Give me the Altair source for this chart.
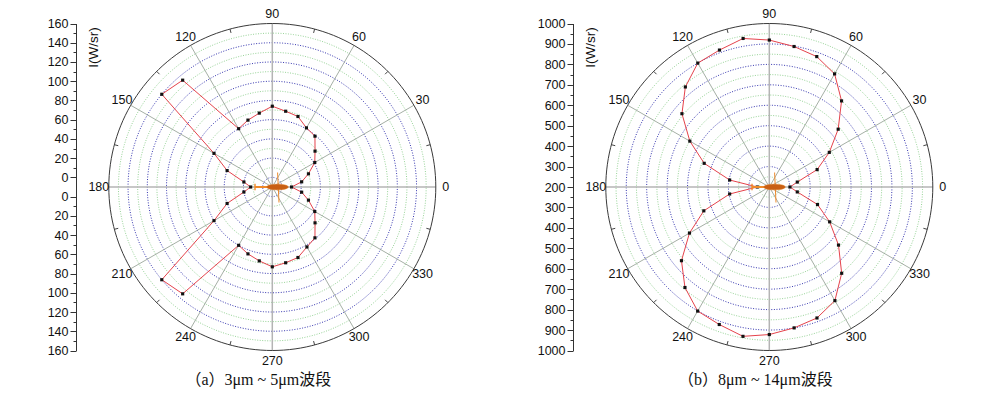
import altair as alt
import pandas as pd
import numpy as np

# ---------------- data ----------------
ANGLES = list(range(0, 360, 10))
A_VALUES = [10, 21, 30, 41, 48, 59, 61, 68, 70, 74, 68, 64, 60, 135, 140, 60, 40, 20, 12.5,
            20, 40, 60, 140, 135, 60, 64, 68, 73, 70, 68, 62, 59, 48, 41, 30, 21]
B_VALUES = [301, 339, 449, 539, 640, 750, 839, 879, 898, 919, 938, 913, 900, 839, 758, 649, 539, 397, 259,
            397, 541, 651, 761, 842, 901, 916, 942, 922, 900, 882, 842, 751, 642, 541, 451, 339]
ANGLE_LABELS = list(range(0, 360, 30))
MINOR_ANGLES = list(range(15, 360, 30))
A_RADIAL = {"vmin": -10, "vmax": 160, "first": 0, "major": 20}
B_RADIAL = {"vmin": 200, "vmax": 1000, "first": 200, "major": 100}
CAPTIONS = ["（a）3μm ~ 5μm波段", "（b）8μm ~ 14μm波段"]
AXIS_TITLE = "I(W/sr)"

# ---------------- layout / style ----------------
W, H = 976, 381
R_PX = 163.5
CY = 179
CENTERS_X = [264.3, 761.3]
AXIS_X = [68, 565]
LABEL_R_PX = 173.5
FONT = "Liberation Sans, Arial, sans-serif"
CAP_FONT = "Liberation Serif, 'Noto Sans CJK SC', serif"

BODY_PATH = "M -0.28 0 C -0.28 -0.19 0.8 -0.19 0.8 0 C 0.8 0.19 -0.28 0.19 -0.28 0 Z"
FIN_PATH = ("M -0.85 -0.045 L 0.3 -0.045 L 0.3 0.045 L -0.85 0.045 Z "
            "M -0.9 -0.16 L -0.83 -0.16 L -0.83 0.16 L -0.9 0.16 Z "
            "M 0.24 -0.72 L 0.29 -0.72 L 0.36 0.78 L 0.31 0.78 Z")


def panel(values, rad, cx, axis_x, caption):
    vmin, vmax, first, major = rad["vmin"], rad["vmax"], rad["first"], rad["major"]
    half = major // 2
    Rd = vmax - vmin
    k = Rd / R_PX

    xs = alt.Scale(domain=[-Rd, Rd], range=[cx - R_PX, cx + R_PX], nice=False, zero=False)
    ys = alt.Scale(domain=[-Rd, Rd], range=[CY + R_PX, CY - R_PX], nice=False, zero=False)

    label_vals = list(range(first, vmax + 1, half))
    tick_vals = sorted(set([v - vmin for v in label_vals] + [-(v - vmin) for v in label_vals]))
    test = f"(abs(datum.value) + ({vmin})) % {major} == 0"
    axis = alt.Axis(
        values=tick_vals,
        labelExpr=f"{test} ? toString(abs(datum.value) + ({vmin})) : ''",
        tickSize={"condition": {"test": test, "value": 6}, "value": 3},
        orient="left", offset=-axis_x, grid=False,
        domainColor="#333333", domainWidth=1, tickColor="#333333", tickWidth=1,
        labelFont=FONT, labelFontSize=12.5, labelColor="#111111", labelPadding=2,
        labelOverlap=False, labelFlush=False,
        title=AXIS_TITLE, titleX=17, titleY=39, titleAngle=270, titleAlign="center",
        titleBaseline="middle", titleFont=FONT, titleFontSize=13.5, titleFontWeight="normal",
        titleColor="#111111", titlePadding=0,
    )

    def X(f):
        return alt.X(f, type="quantitative", scale=xs, axis=None)

    def Y(f):
        return alt.Y(f, type="quantitative", scale=ys, axis=axis)

    # grid rings
    t = np.arange(0, 361, 2)
    rows = []
    minor_v = list(range(first + half, vmax, major))
    major_v = [v for v in range(first, vmax, major) if v > vmin]
    for kind, vs in (("minor", minor_v), ("major", major_v), ("outer", [vmax])):
        for v in vs:
            rr = v - vmin
            for a in t:
                rows.append({"kind": kind, "ring": v, "t": a,
                             "x": rr * np.cos(np.radians(a)), "y": rr * np.sin(np.radians(a))})
    rings = pd.DataFrame(rows)

    def ring_layer(kind, color, width, dash=None):
        kw = dict(color=color, strokeWidth=width)
        if dash:
            kw["strokeDash"] = dash
        return alt.Chart(rings).transform_filter(f"datum.kind == '{kind}'").mark_line(**kw).encode(
            x=X("x"), y=Y("y"), detail="ring:N", order="t:Q")

    green = ring_layer("minor", "#98d498", 1, [1, 1.5])
    blue = ring_layer("major", "#3636b0", 1, [1, 1.6])
    outer = ring_layer("outer", "#3a3a3a", 1)

    spk = pd.DataFrame({"angle": ANGLE_LABELS})
    spokes_base = alt.Chart(spk).transform_calculate(
        x0="0", y0="0",
        x1=f"{Rd} * cos(datum.angle * PI / 180)",
        y1=f"{Rd} * sin(datum.angle * PI / 180)")
    spokes = spokes_base.transform_filter("datum.angle % 90 != 0").mark_rule(
        color="#8e9a8e", strokeWidth=0.8).encode(x=X("x0"), y=Y("y0"), x2="x1:Q", y2="y1:Q")
    mains = spokes_base.transform_filter("datum.angle % 90 == 0").mark_rule(
        color="#b4b4b4", strokeWidth=1.5).encode(x=X("x0"), y=Y("y0"), x2="x1:Q", y2="y1:Q")

    mt = pd.DataFrame({"angle": MINOR_ANGLES})
    mticks = alt.Chart(mt).transform_calculate(
        x0=f"{Rd} * cos(datum.angle * PI / 180)",
        y0=f"{Rd} * sin(datum.angle * PI / 180)",
        x1=f"{Rd - 4 * k} * cos(datum.angle * PI / 180)",
        y1=f"{Rd - 4 * k} * sin(datum.angle * PI / 180)",
    ).mark_rule(color="#444444", strokeWidth=1).encode(x=X("x0"), y=Y("y0"), x2="x1:Q", y2="y1:Q")

    df = pd.DataFrame({"angle": ANGLES, "value": values})
    closed = pd.concat([df, pd.DataFrame({"angle": [360], "value": [values[0]]})], ignore_index=True)
    calc = dict(
        rr=f"datum.value - ({vmin})",
        x=f"(datum.value - ({vmin})) * cos(datum.angle * PI / 180)",
        y=f"(datum.value - ({vmin})) * sin(datum.angle * PI / 180)",
    )
    line = alt.Chart(closed).transform_calculate(**calc).mark_line(
        color="#e5434c", strokeWidth=1).encode(x=X("x"), y=Y("y"), order="angle:Q")
    pts = alt.Chart(df).transform_calculate(**calc).mark_point(
        shape="square", filled=True, color="#111111", size=10, opacity=1).encode(x=X("x"), y=Y("y"))

    one = pd.DataFrame({"o": [0]})
    fins = alt.Chart(one).mark_point(shape=FIN_PATH, filled=True, color="#ee8a2a", size=1600,
                                     opacity=1).encode(x=X("o"), y=Y("o"))
    body = alt.Chart(one).mark_point(shape=BODY_PATH, filled=True, color="#c95f14", size=1600,
                                     opacity=1, stroke="#e07a20", strokeWidth=0.5).encode(
        x=X("o"), y=Y("o"))

    lr = LABEL_R_PX * k
    labels = alt.Chart(spk).transform_calculate(
        lx=f"{lr} * cos(datum.angle * PI / 180)",
        ly=f"{lr} * sin(datum.angle * PI / 180)",
        txt="toString(datum.angle)",
    ).mark_text(font=FONT, fontSize=12.5, color="#111111", align="center", baseline="middle").encode(
        x=X("lx"), y=Y("ly"), text="txt:N")

    cap = alt.Chart(pd.DataFrame({"caption": [caption]})).mark_text(
        font=CAP_FONT, fontSize=16, color="#111111", align="center", baseline="middle").encode(
        x=alt.value(cx - 14), y=alt.value(372), text="caption:N")

    return alt.layer(green, blue, spokes, mains, outer, mticks, line, pts, fins, body, labels, cap)


pa = panel(A_VALUES, A_RADIAL, CENTERS_X[0], AXIS_X[0], CAPTIONS[0])
pb = panel(B_VALUES, B_RADIAL, CENTERS_X[1], AXIS_X[1], CAPTIONS[1])

chart = alt.layer(pa, pb).resolve_scale(x="independent", y="independent").resolve_axis(
    x="independent", y="independent").properties(
    width=W, height=H, padding=0, autosize=alt.AutoSizeParams(type="none"),
    background="white",
).configure_view(stroke=None)

chart.save("out.html", embed_options={"renderer": "svg", "actions": False})
